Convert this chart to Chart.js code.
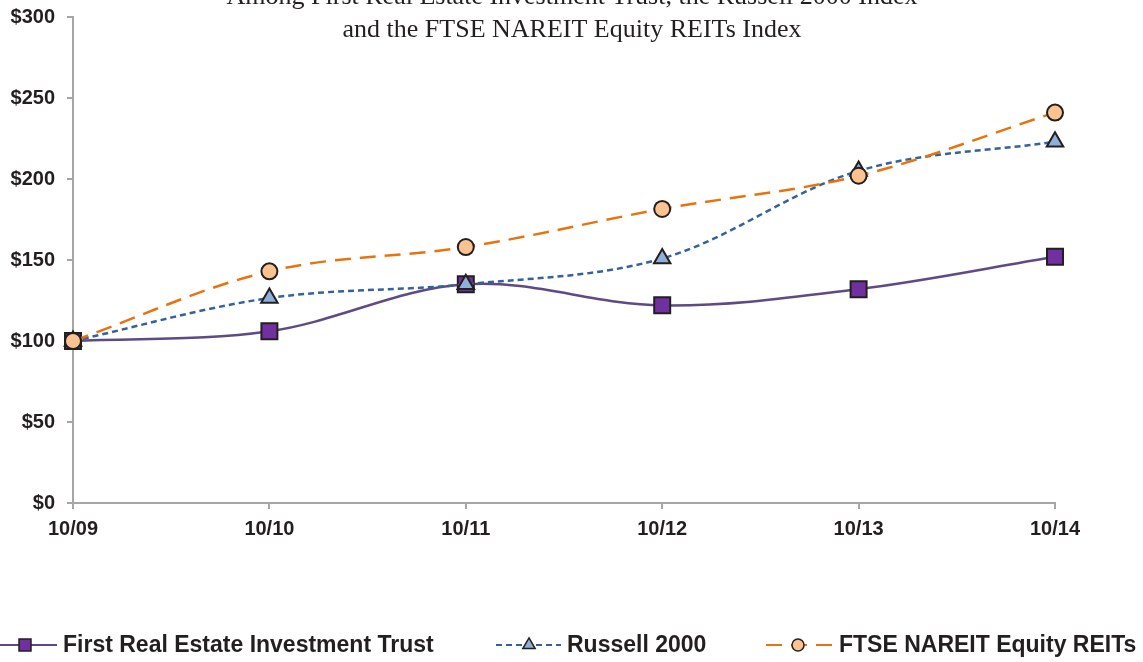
<!DOCTYPE html>
<html>
<head>
<meta charset="utf-8">
<script src="https://cdn.jsdelivr.net/npm/chart.js@4.4.1/dist/chart.umd.min.js"></script>
<style>
  html, body { margin: 0; padding: 0; background: #fff; }
  #wrap { width: 1143px; height: 662px; position: relative; }
</style>
</head>
<body>
<div id="wrap"><canvas id="chart"></canvas></div>
<script>
    "use strict";

    const years = ["10/09", "10/10", "10/11", "10/12", "10/13", "10/14"];
    const fretValues = [100, 106, 135, 122, 132, 152];
    const russellValues = [100, 126.5, 135, 151, 205, 223];
    const ftseValues = [100, 143, 158, 181.5, 202, 241];
    const seriesNames = [
        "First Real Estate Investment Trust",
        "Russell 2000",
        "FTSE NAREIT Equity REITs",
    ];
    const titleLines = [
        "Among First Real Estate Investment Trust, the Russell 2000 Index",
        "and the FTSE NAREIT Equity REITs Index",
    ];

    const axisGrey = "#A6A6A6";
    const textDark = "#231F20";
    const sansFont = "'Liberation Sans', Arial, sans-serif";

    // title sits over the plot area, first line cut by the top edge
    const titlePlugin = {
        id: "titleLines",
        afterDraw(chart) {
            const ctx = chart.ctx;
            ctx.save();
            ctx.font = "26px 'Liberation Serif', 'DejaVu Serif', serif";
            ctx.fillStyle = textDark;
            ctx.textAlign = "center";
            ctx.textBaseline = "middle";
            ctx.fillText(titleLines[0], 572, -3);
            ctx.fillText(titleLines[1], 572, 30);
            ctx.restore();
        },
    };

    // legend: line sample with the marker on it
    const legendItems = [
        { x0: -10, x1: 57, mx: 25, text: 63 },
        { x0: 496, x1: 561, mx: 529, text: 567 },
        { x0: 766, x1: 832, mx: 798, text: 839 },
    ];
    const legendPlugin = {
        id: "lineLegend",
        afterDraw(chart) {
            const ctx = chart.ctx;
            const y = 645;
            ctx.save();
            legendItems.forEach((it, i) => {
                const ds = chart.data.datasets[i];
                ctx.strokeStyle = ds.borderColor;
                ctx.lineWidth = 2;
                ctx.setLineDash(ds.borderDash || []);
                ctx.beginPath();
                ctx.moveTo(it.x0, y);
                ctx.lineTo(it.x1, y);
                ctx.stroke();
                ctx.setLineDash([]);
                ctx.fillStyle = ds.pointBackgroundColor;
                ctx.strokeStyle = textDark;
                ctx.lineWidth = 1.5;
                Chart.helpers.drawPoint(
                    ctx,
                    { pointStyle: ds.pointStyle, radius: ds.pointRadius * 0.75, borderWidth: 1.5, rotation: 0 },
                    it.mx,
                    y
                );
                ctx.fillStyle = textDark;
                ctx.font = "bold 23px " + sansFont;
                ctx.textAlign = "left";
                ctx.textBaseline = "middle";
                ctx.fillText(ds.label, it.text, y + 1);
            });
            ctx.restore();
        },
    };

    const datasets = [
        {
            label: seriesNames[0],
            data: fretValues,
            borderColor: "#5F4A85",
            borderWidth: 2.5,
            pointStyle: "rect",
            pointRadius: 11.3,
            pointBackgroundColor: "#7030A0",
            pointBorderColor: textDark,
            pointBorderWidth: 2,
            order: 2,
        },
        {
            label: seriesNames[1],
            data: russellValues,
            borderColor: "#34629C",
            borderWidth: 2.5,
            borderDash: [6, 4],
            pointStyle: "triangle",
            pointRadius: 9.5,
            pointBackgroundColor: "#8FAFD8",
            pointBorderColor: textDark,
            pointBorderWidth: 2,
            order: 1,
        },
        {
            label: seriesNames[2],
            data: ftseValues,
            borderColor: "#E8730E",
            borderWidth: 2.5,
            borderDash: [16, 9],
            pointStyle: "circle",
            pointRadius: 8,
            pointBackgroundColor: "#FCC290",
            pointBorderColor: textDark,
            pointBorderWidth: 2,
            order: 0,
        },
    ];

    const axisGrid = {
        display: true,
        drawOnChartArea: false,
        drawTicks: true,
        tickLength: 6,
        color: axisGrey,
        lineWidth: 2,
    };

    const chart = new Chart(document.getElementById("chart"), {
        type: "line",
        data: {
            labels: years,
            datasets: datasets,
        },
        options: {
            responsive: true,
            maintainAspectRatio: false,
            animation: false,
            layout: {
                padding: { top: 17, right: 88, left: 0, bottom: 0 },
            },
            elements: {
                line: { tension: 0.35, fill: false },
            },
            datasets: {
                line: { clip: false },
            },
            plugins: {
                legend: { display: false },
                title: { display: false },
                tooltip: { enabled: false },
            },
            scales: {
                x: {
                    offset: false,
                    afterFit: (scale) => {
                        scale.height = 159;
                        scale.paddingLeft = 0;
                        scale.paddingRight = 0;
                    },
                    grid: axisGrid,
                    border: { display: true, color: axisGrey, width: 2 },
                    ticks: {
                        color: textDark,
                        padding: 8,
                        maxRotation: 0,
                        font: { family: sansFont, size: 20, weight: "bold" },
                    },
                },
                y: {
                    min: 0,
                    max: 300,
                    afterFit: (scale) => {
                        scale.width = 73;
                        scale.paddingTop = 0;
                        scale.paddingBottom = 0;
                    },
                    grid: axisGrid,
                    border: { display: true, color: axisGrey, width: 2 },
                    ticks: {
                        stepSize: 50,
                        color: textDark,
                        padding: 12,
                        callback: (v) => "$" + v,
                        font: { family: sansFont, size: 20, weight: "bold" },
                    },
                },
            },
        },
        plugins: [titlePlugin, legendPlugin],
    });
</script>
</body>
</html>
